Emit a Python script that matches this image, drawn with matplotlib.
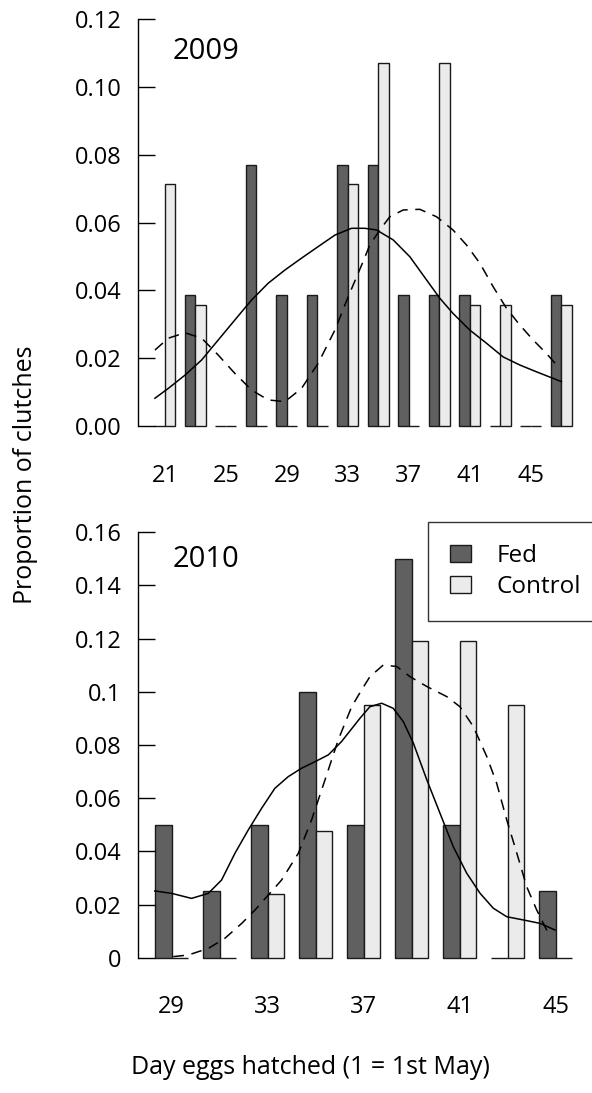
import matplotlib
matplotlib.use("Agg")
import matplotlib.pyplot as plt

plt.rcParams['font.family'] = ['Open Sans', 'DejaVu Sans']

# 2009 data (bins of two days)
days_2009 = [21, 23, 25, 27, 29, 31, 33, 35, 37, 39, 41, 43, 45, 47]
fed_2009 = [0, 0.0385, 0, 0.0769, 0.0385, 0.0385, 0.0769, 0.0769, 0.0385, 0.0385, 0.0385, 0, 0, 0.0385]
ctrl_2009 = [0.0714, 0.0357, 0, 0, 0, 0, 0.0714, 0.1071, 0, 0.1071, 0.0357, 0.0357, 0, 0.0357]
ticks_2009 = [21, 25, 29, 33, 37, 41, 45]

# density curves, 2009
fed_curve_x_2009 = [20.34, 21.22, 22.31, 23.41, 24.50, 25.59, 26.69, 27.77, 28.87, 29.96, 31.05,
                    32.15, 33.24, 34.11, 34.88, 35.97, 37.07, 38.16, 39.03, 39.90, 41.00, 42.10,
                    43.18, 44.28, 45.37, 47.01]
fed_curve_y_2009 = [0.0082, 0.0111, 0.0150, 0.0195, 0.0254, 0.0313, 0.0372, 0.0421, 0.0460, 0.0495,
                    0.0529, 0.0563, 0.0583, 0.0583, 0.0578, 0.0549, 0.0499, 0.0431, 0.0377, 0.0332,
                    0.0283, 0.0244, 0.0204, 0.0180, 0.0160, 0.0131]
ctrl_curve_x_2009 = [20.34, 21.22, 22.31, 23.41, 24.50, 25.59, 26.69, 27.77, 28.87, 29.96, 31.05,
                     32.15, 33.02, 34.00, 34.44, 35.10, 35.75, 36.63, 37.72, 38.82, 39.90, 40.78,
                     41.66, 42.53, 43.41, 44.28, 45.15, 46.03, 46.79]
ctrl_curve_y_2009 = [0.0224, 0.0259, 0.0275, 0.0259, 0.0209, 0.0155, 0.0106, 0.0077, 0.0072, 0.0111,
                     0.0185, 0.0283, 0.0381, 0.0485, 0.0534, 0.0578, 0.0617, 0.0637, 0.0639, 0.0617,
                     0.0578, 0.0534, 0.0480, 0.0411, 0.0347, 0.0298, 0.0254, 0.0214, 0.0175]

# 2010 data
days_2010 = [29, 31, 33, 35, 37, 39, 41, 43, 45]
fed_2010 = [0.05, 0.025, 0.05, 0.10, 0.05, 0.15, 0.05, 0, 0.025]
ctrl_2010 = [0, 0, 0.0238, 0.0476, 0.0952, 0.119, 0.119, 0.0952, 0]
ticks_2010 = [29, 33, 37, 41, 45]

fed_curve_x_2010 = [28.30, 29.00, 29.83, 30.53, 31.08, 31.64, 32.19, 32.75, 33.30, 33.86, 34.42,
                    34.97, 35.53, 36.08, 36.85, 37.26, 37.75, 38.23, 38.65, 39.07, 39.63, 40.18,
                    40.73, 41.29, 41.85, 42.40, 42.96, 43.65, 44.35, 44.97]
fed_curve_y_2010 = [0.0251, 0.0242, 0.0223, 0.0242, 0.0292, 0.0393, 0.0480, 0.0562, 0.0637, 0.0681,
                    0.0713, 0.0737, 0.0763, 0.0813, 0.0901, 0.0944, 0.0957, 0.0938, 0.0888, 0.0807,
                    0.0669, 0.0543, 0.0418, 0.0318, 0.0242, 0.0186, 0.0154, 0.0142, 0.0129, 0.0104]
ctrl_curve_x_2010 = [29.07, 29.69, 30.53, 31.22, 31.92, 32.47, 33.03, 33.58, 34.28, 34.83, 35.39,
                     35.94, 36.50, 36.90, 37.26, 37.82, 38.38, 38.93, 39.63, 40.46, 41.01, 41.57,
                     42.13, 42.54, 42.96, 43.38, 43.79, 44.21, 44.76]
ctrl_curve_y_2010 = [0.0004, 0.0010, 0.0035, 0.0073, 0.0129, 0.0179, 0.0236, 0.0292, 0.0393, 0.0518,
                     0.0669, 0.0819, 0.0944, 0.1005, 0.1057, 0.1101, 0.1095, 0.1057, 0.1020, 0.0982,
                     0.0944, 0.0869, 0.0756, 0.0656, 0.0518, 0.0393, 0.0267, 0.0179, 0.0079]

fed_color = '#606060'
ctrl_color = '#ebebeb'
edge = '#1a1a1a'

fig = plt.figure(figsize=(5.92, 10.93), dpi=100)
ax1 = fig.add_axes([0.2331, 0.6102, 0.7466, 0.3724])
ax2 = fig.add_axes([0.2331, 0.1238, 0.7466, 0.3892])


def draw_panel(ax, days, fed, ctrl, fx, fy, cx, cy, width):
    fed_pos = [d - width / 2 for d in days]
    ctrl_pos = [d + width / 2 for d in days]
    ax.bar(fed_pos, fed, width, color=fed_color, edgecolor=edge, linewidth=1.0,
           label='Fed', clip_on=False)
    ax.bar(ctrl_pos, ctrl, width, color=ctrl_color, edgecolor=edge, linewidth=1.0,
           label='Control', clip_on=False)
    ax.plot(fx, fy, color='black', lw=1.1, solid_joinstyle='round')
    ax.plot(cx, cy, color='black', lw=1.1, linestyle=(0, (7, 5)))
    for s in ['top', 'right', 'bottom']:
        ax.spines[s].set_visible(False)
    ax.spines['left'].set_linewidth(1.0)
    ax.tick_params(axis='y', direction='in', length=12, width=1.0, pad=12, labelsize=17)
    ax.tick_params(axis='x', length=0, pad=27, labelsize=17)
    ax.patch.set_visible(False)


draw_panel(ax1, days_2009, fed_2009, ctrl_2009, fed_curve_x_2009, fed_curve_y_2009,
           ctrl_curve_x_2009, ctrl_curve_y_2009, 0.69)
ax1.set_xlim(19.23, 48.23)
ax1.set_ylim(0, 0.12)
ax1.spines['left'].set_bounds(0, 0.12)
ax1.set_yticks([0, 0.02, 0.04, 0.06, 0.08, 0.10, 0.12])
ax1.set_yticklabels(['0.00', '0.02', '0.04', '0.06', '0.08', '0.10', '0.12'])
ax1.set_xticks(ticks_2009)
ax1.set_xticklabels([str(t) for t in ticks_2009])
ax1.text(0.078, 0.92, '2009', transform=ax1.transAxes, fontsize=21, ha='left', va='center')

draw_panel(ax2, days_2010, fed_2010, ctrl_2010, fed_curve_x_2010, fed_curve_y_2010,
           ctrl_curve_x_2010, ctrl_curve_y_2010, 0.68)
ax2.set_xlim(27.60, 46.01)
ax2.set_ylim(0, 0.16)
ax2.spines['left'].set_bounds(0, 0.16)
ax2.set_yticks([0, 0.02, 0.04, 0.06, 0.08, 0.1, 0.12, 0.14, 0.16])
ax2.set_yticklabels(['0', '0.02', '0.04', '0.06', '0.08', '0.1', '0.12', '0.14', '0.16'])
ax2.set_xticks(ticks_2010)
ax2.set_xticklabels([str(t) for t in ticks_2010])
ax2.text(0.078, 0.935, '2010', transform=ax2.transAxes, fontsize=21, ha='left', va='center')

leg = ax2.legend(loc='upper left', bbox_to_anchor=(428 / 592, 1 - 522 / 1093),
                 bbox_transform=fig.transFigure, fontsize=17.5, frameon=True, fancybox=False,
                 edgecolor='black', borderpad=0.9, handlelength=0.86, handleheight=0.7,
                 handletextpad=1.05, labelspacing=0.3, borderaxespad=0)
leg.get_frame().set_linewidth(1.0)

fig.text(26 / 592, 1 - 475 / 1093, 'Proportion of clutches', rotation=90, fontsize=18,
         ha='center', va='center')
fig.text(310 / 592, 1 - 1068 / 1093, 'Day eggs hatched (1 = 1st May)', fontsize=18,
         ha='center', va='center')

fig.savefig('out.png', dpi=100)
